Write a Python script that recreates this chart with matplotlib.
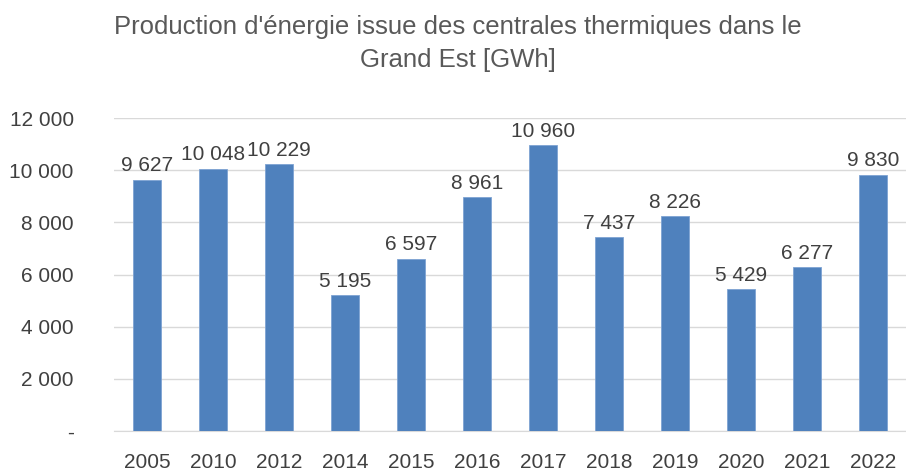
import matplotlib
matplotlib.use("Agg")
import matplotlib.pyplot as plt

years = ["2005", "2010", "2012", "2014", "2015", "2016", "2017", "2018", "2019", "2020", "2021", "2022"]
production = [9627, 10048, 10229, 5195, 6597, 8961, 10960, 7437, 8226, 5429, 6277, 9830]
yticks = [0, 2000, 4000, 6000, 8000, 10000, 12000]

TXT = "#404040"
BLUE = "#4F81BD"

plt.rcParams["font.family"] = ["Liberation Sans", "DejaVu Sans"]


def fmt(v):
    return "-" if v == 0 else f"{v:,}".replace(",", " ")


fig = plt.figure(figsize=(9.06, 4.73), dpi=100)
ax = fig.add_axes([114 / 906, 1 - 431 / 473, 792 / 906, 313 / 473])

x = range(len(years))
ax.bar(x, production, width=0.41, color=BLUE, edgecolor="#7EA3D3", linewidth=0.6, zorder=3)
for i, v in zip(x, production):
    ax.text(i, v + 170, fmt(v), ha="center", va="bottom", fontsize=15, color=TXT)

ax.set_xlim(-0.5, len(years) - 0.5)
ax.set_ylim(0, 12000)
ax.set_yticks(yticks)
ax.set_yticklabels([fmt(v) for v in yticks], fontsize=15, color=TXT)
ax.set_xticks(list(x))
ax.set_xticklabels(years, fontsize=15, color=TXT)
ax.tick_params(axis="y", length=0, pad=29)
ax.tick_params(axis="x", length=0, pad=16)
ax.grid(axis="y", color="#D9D9D9", lw=1, zorder=0)
for s in ["top", "right", "left"]:
    ax.spines[s].set_visible(False)
ax.spines["bottom"].set_color("#D9D9D9")

fig.text(0.505, 1 - 27 / 473, "Production d'énergie issue des centrales thermiques dans le",
         ha="center", va="center", fontsize=18.5, color="#595959")
fig.text(0.505, 1 - 60 / 473, "Grand Est [GWh]", ha="center", va="center", fontsize=18.5, color="#595959")

fig.savefig("out.png", dpi=100)
